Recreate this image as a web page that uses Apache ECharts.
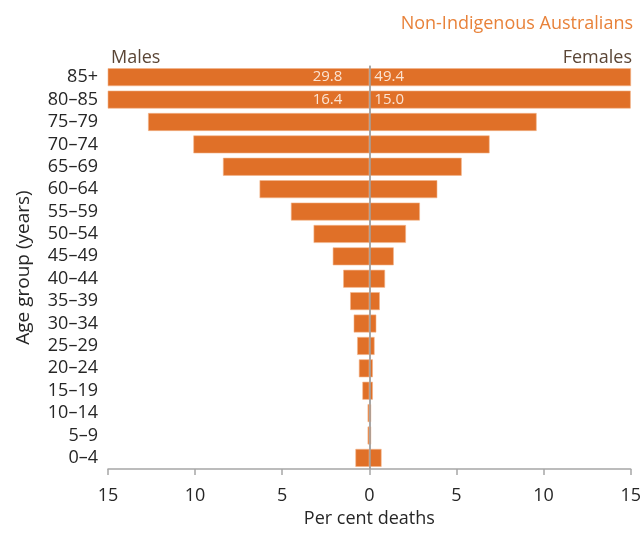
<!DOCTYPE html>
<html><head><meta charset="utf-8">
<script src="https://cdn.jsdelivr.net/npm/echarts@6/dist/echarts.min.js"></script>
<style>html,body{margin:0;padding:0;background:#fff;overflow:hidden}#c{width:644px;height:533px;position:absolute;left:0;top:0}</style>
</head><body><div id="c"></div>
<script>
var categories = ['0–4','5–9','10–14','15–19','20–24','25–29','30–34','35–39','40–44','45–49','50–54','55–59','60–64','65–69','70–74','75–79','80–85','85+'];
var maleValues = [0.8,0.1,0.1,0.4,0.6,0.7,0.9,1.1,1.5,2.1,3.2,4.5,6.3,8.4,10.1,12.7,16.4,29.8];
var femaleValues = [0.7,0.1,0.1,0.2,0.2,0.3,0.4,0.6,0.9,1.4,2.1,2.9,3.9,5.3,6.9,9.6,15.0,49.4];
var labeledRows = ['80–85','85+'];

var FONT = '"Open Sans", sans-serif';
var ORANGE = '#E07028';
var chart = echarts.init(document.getElementById('c'), null, {width:644, height:533});
var labelStyle = {color:'#FBE3D2', fontSize:15, fontFamily:FONT};
function mk(vals, sign, pos, dist){
  return vals.map(function(v,i){
    var show = labeledRows.indexOf(categories[i]) >= 0;
    return {value: sign*v, label: {show: show, position: pos, distance: dist,
      formatter: v.toFixed(1)}};
  });
}
chart.setOption({
  animation:false,
  textStyle:{fontFamily:FONT},
  title:[
    {text:'Non-Indigenous Australians', right:6, top:10, textStyle:{color:'#E8823A', fontSize:18, fontWeight:'normal', fontFamily:FONT}},
    {text:'Males', left:106, top:44, textStyle:{color:'#5B4636', fontSize:18, fontWeight:'normal', fontFamily:FONT}},
    {text:'Females', right:7, top:44, textStyle:{color:'#5B4636', fontSize:18, fontWeight:'normal', fontFamily:FONT}}
  ],
  grid:{left:108, width:529, top:66, height:409, containLabel:false},
  xAxis:{type:'value', min:-15, max:15, interval:5,
    axisLine:{show:true, onZero:false, lineStyle:{color:'#A6A6A6', width:1.5}},
    axisTick:{show:true, length:6, lineStyle:{color:'#A6A6A6', width:1.5}},
    splitLine:{show:false},
    axisLabel:{color:'#262626', fontSize:18, fontFamily:FONT, margin:18, formatter:function(v){return String(Math.abs(v));}},
    name:'Per cent deaths', nameLocation:'middle', nameGap:39,
    nameTextStyle:{color:'#262626', fontSize:18, fontFamily:FONT}},
  yAxis:{type:'category', data:categories,
    axisLine:{show:true, lineStyle:{color:'#A6A6A6', width:1.5}},
    axisTick:{show:false},
    axisLabel:{color:'#262626', fontSize:18, fontFamily:FONT, margin:10, interval:0},
    name:'Age group (years)', nameLocation:'middle', nameGap:75, nameRotate:90,
    nameTextStyle:{color:'#262626', fontSize:19, fontFamily:FONT}},
  series:[
    {type:'bar', name:'Males', data:mk(maleValues,-1,'insideRight',27), barGap:'-100%', barCategoryGap:'20%',
      clip:true, itemStyle:{color:ORANGE, borderColor:'#F3B58C', borderWidth:0.6}, label:labelStyle,
      markLine:{silent:true, symbol:'none', label:{show:false}, z:10,
        lineStyle:{color:'#A0A0A0', type:'solid', width:1.5}, data:[{xAxis:0}]}},
    {type:'bar', name:'Females', data:mk(femaleValues,1,'insideLeft',5), barGap:'-100%', barCategoryGap:'20%',
      clip:true, itemStyle:{color:ORANGE, borderColor:'#F3B58C', borderWidth:0.6}, label:labelStyle}
  ]
});
</script></body></html>
